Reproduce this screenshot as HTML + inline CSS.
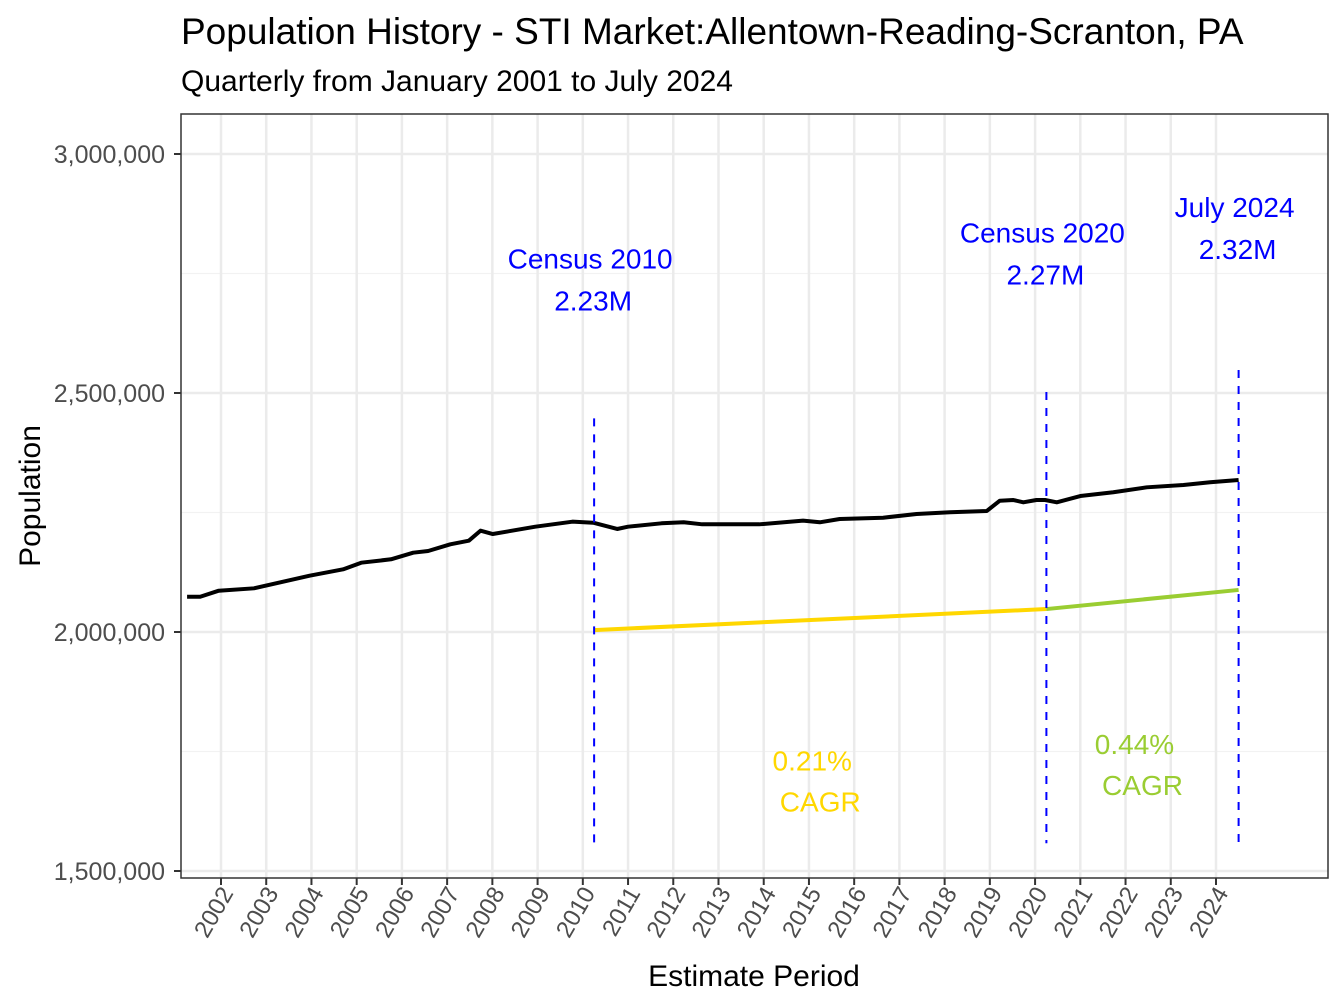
<!DOCTYPE html>
<html><head><meta charset="utf-8"><style>
body{margin:0;background:#fff;}
svg{display:block;font-family:"Liberation Sans",Arial,sans-serif;}
</style></head><body>
<svg id="chart" width="1344" height="1008" viewBox="0 0 1344 1008">
<rect width="1344" height="1008" fill="#fff"/>
<text x="181" y="44" font-size="37" fill="#000">Population History - STI Market:Allentown-Reading-Scranton, PA</text>
<text x="181" y="91" font-size="30" fill="#000">Quarterly from January 2001 to July 2024</text>
<g id="grid"></g>
<g id="marks"></g>
<rect x="181" y="114" width="1147" height="764" fill="none" stroke="#333" stroke-width="1.5"/>
<g id="axes"></g>
<text transform="translate(40,496) rotate(-90)" text-anchor="middle" font-size="30" fill="#000">Population</text>
<text x="754" y="986" text-anchor="middle" font-size="30" fill="#000">Estimate Period</text>
</svg>
<script>
const years = [2001.25,2001.54,2001.95,2002.73,2003.96,2004.7,2005.1,2005.76,2006.25,2006.58,2007.07,2007.48,2007.74,2008.01,2008.95,2009.77,2010.23,2010.76,2011.0,2011.74,2012.23,2012.64,2013.9,2014.87,2015.24,2015.68,2016.64,2017.38,2018.12,2018.93,2019.22,2019.52,2019.74,2020.03,2020.22,2020.48,2021.0,2021.73,2022.47,2023.28,2023.87,2024.5];
const population = [2073800,2073800,2086400,2091400,2117800,2131100,2145000,2152100,2165900,2169500,2183500,2191000,2212000,2205000,2220300,2230800,2228600,2215500,2220300,2227400,2229500,2225300,2225300,2232900,2229500,2236400,2239100,2246900,2250400,2253100,2274700,2276100,2271300,2276100,2276100,2271300,2284500,2292300,2302700,2307500,2313200,2318000];
const cagrYears = [2010.25,2020.25,2024.5];
const cagrValues = [2004000,2048000,2088000];
const yTicks = [1500000,2000000,2500000,3000000];
const yMinor = [1750000,2250000,2750000];
const xTicks = [2002,2003,2004,2005,2006,2007,2008,2009,2010,2011,2012,2013,2014,2015,2016,2017,2018,2019,2020,2021,2022,2023,2024];
const markerYears = [2010.25,2020.25,2024.5];
const markerTops = [2447000,2502000,2548000];
const markerLabels = [["Census 2010","2.23M"],["Census 2020","2.27M"],["July 2024","2.32M"]];
const markerLabelTop = [2760000,2815000,2868000];
const cagrLabels = ["0.21%","0.44%"];
const cagrLabelVal = [1710000,1745000];

const NS="http://www.w3.org/2000/svg";
const X = y => 221 + (y-2002)*45.227;
const Y = v => 632 - (v-2000000)*239/500000;
function mk(tag, attrs, parent){const e=document.createElementNS(NS,tag);for(const k in attrs)e.setAttribute(k,attrs[k]);parent.appendChild(e);return e;}
const grid=document.getElementById('grid'), marks=document.getElementById('marks'), axes=document.getElementById('axes');

yMinor.forEach(v=>{const l=mk('line',{x1:181,x2:1328,y1:Y(v),y2:Y(v),stroke:'#f2f2f2','stroke-width':1.2},grid);

});
yTicks.forEach(v=>{const l=mk('line',{x1:181,x2:1328,y1:Y(v),y2:Y(v),stroke:'#ebebeb','stroke-width':2.5},grid);


const t=mk('line',{x1:174,x2:181,y1:Y(v),y2:Y(v),stroke:'#333','stroke-width':2},axes);


const tx=mk('text',{x:165,y:Y(v)+9,'text-anchor':'end','font-size':25,fill:'#4d4d4d'},axes);
tx.textContent=v.toLocaleString('en-US');

});
xTicks.forEach(yr=>{const x=X(yr);
const l=mk('line',{x1:x,x2:x,y1:114,y2:878,stroke:'#ebebeb','stroke-width':2.5},grid);


const t=mk('line',{x1:x,x2:x,y1:878,y2:885,stroke:'#333','stroke-width':2},axes);


const tx=mk('text',{x:0,y:0,'text-anchor':'end','font-size':24,fill:'#4d4d4d',transform:`translate(${x+13},${893}) rotate(-60)`},axes);
tx.textContent=yr;

});

const pl=mk('polyline',{points:years.map((y,i)=>X(y)+','+Y(population[i])).join(' '),fill:'none',stroke:'#000','stroke-width':4,'stroke-linejoin':'round'},marks);


const cagrColors=['#FFD700','#9ACD32'];
for(let i=0;i<2;i++){
const l=mk('line',{x1:X(cagrYears[i]),y1:Y(cagrValues[i]),x2:X(cagrYears[i+1]),y2:Y(cagrValues[i+1]),stroke:cagrColors[i],'stroke-width':4},marks);


const mx=(X(cagrYears[i])+X(cagrYears[i+1]))/2-8;
const t1=mk('text',{x:mx,y:Y(cagrLabelVal[i]),'text-anchor':'middle','font-size':28,fill:cagrColors[i]},marks);
t1.textContent=cagrLabels[i];


const t2=mk('text',{x:mx+8,y:Y(cagrLabelVal[i])+41,'text-anchor':'middle','font-size':28,fill:cagrColors[i]},marks);
t2.textContent='CAGR';

}
markerYears.forEach((yr,i)=>{const x=X(yr);
const l=mk('line',{x1:x,x2:x,y1:Y(markerTops[i]),y2:Y(1558000),stroke:'#0000ff','stroke-width':2,'stroke-dasharray':'8,8'},marks);


const t1=mk('text',{x:x-4,y:Y(markerLabelTop[i]),'text-anchor':'middle','font-size':28,fill:'#0000ff'},marks);
t1.textContent=markerLabels[i][0];


const t2=mk('text',{x:x-1,y:Y(markerLabelTop[i])+42,'text-anchor':'middle','font-size':28,fill:'#0000ff'},marks);
t2.textContent=markerLabels[i][1];

});
</script>
</body></html>
